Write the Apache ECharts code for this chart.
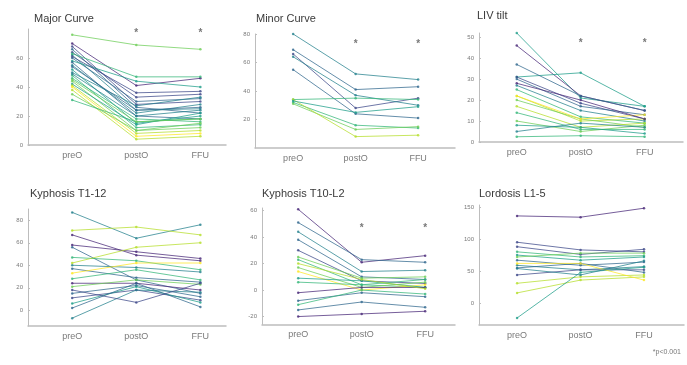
<!DOCTYPE html>
<html>
<head>
<meta charset="utf-8">
<script src="https://cdn.jsdelivr.net/npm/echarts@6/dist/echarts.min.js"></script>
<style>
  html, body { margin: 0; padding: 0; background: #fff; }
  #chart { width: 687px; height: 365px; }
</style>
</head>
<body>
<div id="chart"></div>
<script>
// Time points shared by every panel
const timepoints = ['preO', 'postO', 'FFU'];

// Per-patient values [preO, postO, FFU] for each measurement
const majorCurve = [
  [76, 69, 66], [70, 41, 46], [68, 28, 30], [66, 26, 22], [64, 33, 35],
  [62, 24, 25], [60, 30, 32], [58, 44, 40], [57, 20, 18], [55, 22, 28],
  [52, 15, 20], [50, 27, 33], [63, 47, 47], [48, 12, 14], [46, 18, 16],
  [44, 10, 12], [42, 14, 22], [41, 8, 10], [40, 6, 8], [38, 4, 6],
  [35, 10, 15], [31, 16, 18], [54, 24, 26], [45, 16, 18], [61, 36, 37],
  [49, 20, 24]
];
const minorCurve = [
  [80, 52, 48], [69, 41, 43], [66, 28, 35], [64, 37, 30], [55, 24, 21],
  [34, 35, 34], [32, 16, 14], [31, 13, 15], [34, 8, 9], [33, 25, 29]
];
const livTilt = [
  [52, 21, 17], [46, 22, 15], [31, 33, 17], [37, 22, 15], [31, 18.5, 11],
  [30, 17, 13], [27, 15, 10], [25, 12, 9], [22, 10, 11], [20, 11, 7],
  [17, 7, 9], [14, 6, 6], [10, 5, 8], [8, 7, 4], [5, 9, 7],
  [2.5, 3, 2.5], [22, 11, 13], [28, 20, 11]
];
const kyphosisT1T12 = [
  [87, 64, 76], [71, 74, 67], [67, 49, 44], [58, 52, 46], [56, 27, 15],
  [47, 44, 36], [40, 38, 34], [37, 29, 25], [33, 42, 42], [28, 36, 27],
  [24, 24, 18], [21, 27, 23], [15, 22, 12], [11, 18, 9], [6, 21, 7],
  [2, 24, 3], [-7, 18, 16], [18, 7, 24], [42, 56, 60]
];
const kyphosisT10L2 = [
  [61, 21, 26], [51, 23, 21], [44, 14, 15], [38, 10, 8], [30, 7, 5],
  [23, 4, 2], [17, 2, 6], [14, 0, 4], [9, 7, 2], [6, 4, 8],
  [-2, 2, 2], [-8, -2, -5], [-11, 0, -3], [-20, -18, -16], [-15, -9, -13],
  [20, 8, 1], [25, 9, 10]
];
const lordosisL1L5 = [
  [136, 134, 148], [95, 83, 80], [88, 76, 84], [80, 72, 74], [75, 67, 72],
  [67, 59, 64], [59, 52, 57], [55, 62, 48], [44, 52, 52], [31, 41, 44],
  [16, 36, 41], [-23, 48, 56], [72, 78, 78], [62, 62, 36], [54, 44, 66]
];

// Significance markers (value axis height of the "*")
const sigMajor = 77;
const sigMinor = 73;
const sigLiv = 47;
const sigT10L2 = 47;

// Tick labels for the value axes
const ticksMajor = [0, 20, 40, 60];
const ticksMinor = [20, 40, 60, 80];
const ticksLiv = [0, 10, 20, 30, 40, 50];
const ticksT1T12 = [0, 20, 40, 60, 80];
const ticksT10L2 = [-20, 0, 20, 40, 60];
const ticksL1L5 = [0, 50, 100, 150];

// Viridis colour ramp and the ramp step used for each patient line
const viridis = ['#440154', '#482878', '#3e4989', '#31688e', '#26828e',
                 '#1f9e89', '#35b779', '#6ece58', '#b5de2b', '#fde725'];
const shadeMajor = [7, 1, 2, 3, 2, 4, 3, 5, 3, 4, 5, 4, 6, 6, 6, 7, 5, 8, 9, 8, 7, 6, 3, 7, 2, 4];
const shadeMinor = [4, 3, 2, 4, 3, 6, 6, 7, 8, 5];
const shadeLiv = [5, 1, 5, 3, 2, 3, 4, 6, 8, 7, 8, 6, 7, 5, 4, 6, 9, 1];
const shadeT1T12 = [4, 8, 1, 1, 3, 6, 4, 3, 9, 6, 1, 7, 3, 2, 5, 3, 4, 2, 8];
const shadeT10L2 = [1, 3, 4, 3, 2, 6, 7, 9, 5, 6, 1, 3, 6, 1, 3, 8, 7];
const shadeL1L5 = [1, 2, 2, 6, 5, 3, 4, 3, 2, 8, 8, 5, 7, 9, 4];

const panels = [
  { title: 'Major Curve', data: majorCurve, shade: shadeMajor, ticks: ticksMajor, sig: sigMajor,
    grid: { left: 28, top: 29, width: 198, height: 116 }, x: [0.31, 3.4], y: [0, 80], tx: 34, ty: 13 },
  { title: 'Minor Curve', data: minorCurve, shade: shadeMinor, ticks: ticksMinor, sig: sigMinor,
    grid: { left: 255, top: 34, width: 200, height: 114 }, x: [0.39, 3.59], y: [0, 80], tx: 256, ty: 13 },
  { title: 'LIV tilt', data: livTilt, shade: shadeLiv, ticks: ticksLiv, sig: sigLiv,
    grid: { left: 479, top: 33, width: 204, height: 109 }, x: [0.41, 3.6], y: [0, 52], tx: 477, ty: 10 },
  { title: 'Kyphosis T1-12', data: kyphosisT1T12, shade: shadeT1T12, ticks: ticksT1T12, sig: null,
    grid: { left: 28, top: 209, width: 198, height: 117 }, x: [0.31, 3.4], y: [-14, 90], tx: 30, ty: 188 },
  { title: 'Kyphosis T10-L2', data: kyphosisT10L2, shade: shadeT10L2, ticks: ticksT10L2, sig: sigT10L2,
    grid: { left: 262, top: 208, width: 193, height: 116.5 }, x: [0.43, 3.47], y: [-26, 62], tx: 262, ty: 188 },
  { title: 'Lordosis L1-5', data: lordosisL1L5, shade: shadeL1L5, ticks: ticksL1L5, sig: null,
    grid: { left: 479, top: 205, width: 205, height: 120 }, x: [0.4, 3.63], y: [-34, 153], tx: 479, ty: 188 }
];

const grids = [], xAxes = [], yAxes = [], series = [], texts = [];
const axisGray = '#bdbdbd';
const labelGray = '#7a7a7a';

panels.forEach((p, i) => {
  grids.push(Object.assign({}, p.grid));
  xAxes.push({
    type: 'value', gridIndex: i, min: p.x[0], max: p.x[1],
    splitLine: { show: false },
    axisLine: { show: true, onZero: false, lineStyle: { color: axisGray, width: 1.5 } },
    axisTick: { show: false },
    axisLabel: {
      customValues: [1, 2, 3],
      formatter: v => timepoints[Math.round(v) - 1] || '',
      color: labelGray, fontSize: 9, fontFamily: 'Liberation Sans, Arial', margin: 6
    }
  });
  yAxes.push({
    type: 'value', gridIndex: i, min: p.y[0], max: p.y[1],
    splitLine: { show: false },
    axisLine: { show: true, onZero: false, lineStyle: { color: axisGray, width: 1 } },
    axisTick: { show: true, inside: true, length: 2, customValues: p.ticks, lineStyle: { color: axisGray } },
    axisLabel: {
      customValues: p.ticks, color: labelGray, fontSize: 6,
      fontFamily: 'Liberation Sans, Arial', margin: 5
    }
  });
  p.data.forEach((row, k) => {
    const c = viridis[p.shade[k % p.shade.length]];
    series.push({
      type: 'line', xAxisIndex: i, yAxisIndex: i,
      data: row.map((v, j) => [j + 1, v]),
      symbol: 'circle', symbolSize: 2.5, showSymbol: true,
      lineStyle: { width: 1, color: c, opacity: 0.75 },
      itemStyle: { color: c, opacity: 0.8 },
      silent: true, animation: false
    });
  });
  if (p.sig !== null) {
    series.push({
      type: 'scatter', xAxisIndex: i, yAxisIndex: i,
      data: [[2, p.sig], [3, p.sig]],
      symbolSize: 1, itemStyle: { color: 'rgba(0,0,0,0)' },
      label: { show: true, position: 'inside', formatter: '*', color: '#555', fontSize: 10, fontWeight: 'bold' },
      silent: true, animation: false
    });
  }
  texts.push({
    type: 'text', left: p.tx, top: p.ty,
    style: { text: p.title, fill: '#3a3a3a', font: '11px "Liberation Sans", Arial' }
  });
});

texts.push({
  type: 'text', right: 6, top: 349,
  style: { text: '*p<0.001', fill: '#777', font: '7px "Liberation Sans", Arial' }
});

const chart = echarts.init(document.getElementById('chart'), null, { renderer: 'canvas' });
chart.setOption({
  animation: false,
  backgroundColor: '#fff',
  grid: grids,
  xAxis: xAxes,
  yAxis: yAxes,
  series: series,
  graphic: texts
});
</script>
</body>
</html>
